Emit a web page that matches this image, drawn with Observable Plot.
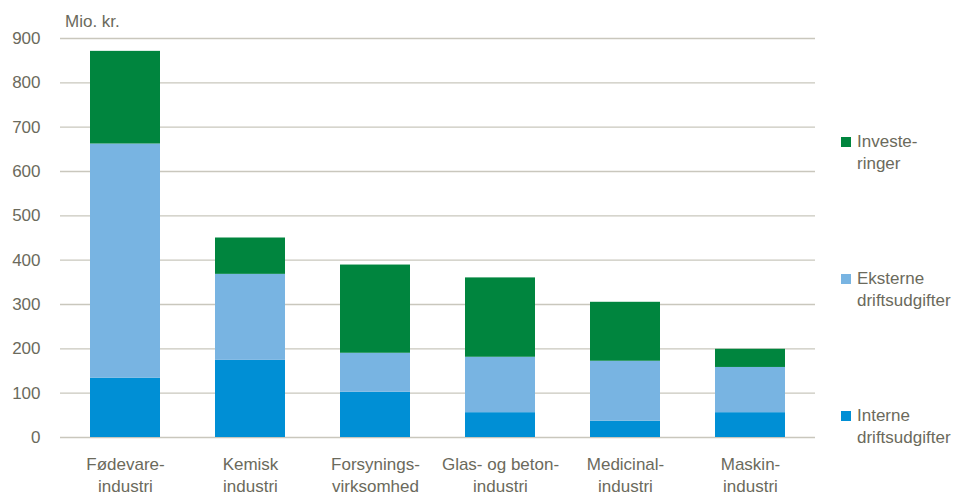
<!DOCTYPE html>
<html>
<head>
<meta charset="utf-8">
<script src="https://cdn.jsdelivr.net/npm/d3@7"></script>
<script src="https://cdn.jsdelivr.net/npm/@observablehq/plot@0.6"></script>
<style>
  body { margin: 0; background: #fff; }
  #wrap { position: relative; width: 955px; height: 495px; font-family: "Liberation Sans Narrow", "Liberation Sans", Arial, sans-serif; color: #6b6a5c; }
  .leg { position: absolute; left: 841px; font-size: 17px; line-height: 22px; }
  .leg span.sw { position: absolute; left: 0; top: 6px; width: 10px; height: 10px; }
  .leg span.tx { display: block; margin-left: 16px; }
  #unit { position: absolute; left: 65px; top: 12px; font-size: 17px; }
</style>
</head>
<body>
<div id="wrap"></div>
<script>
const categories = ["Fødevare-\nindustri", "Kemisk\nindustri", "Forsynings-\nvirksomhed", "Glas- og beton-\nindustri", "Medicinal-\nindustri", "Maskin-\nindustri"];
const series = ["Interne driftsudgifter", "Eksterne driftsudgifter", "Investeringer"];
const legendLabels = ["Interne\ndriftsudgifter", "Eksterne\ndriftsudgifter", "Investe-\nringer"];
const colors = ["#008fd5", "#78b4e2", "#00853e"];
const interne = [134, 174, 102, 56, 37, 56];
const eksterne = [528, 194, 88, 125, 135, 102];
const investeringer = [209, 82, 199, 179, 133, 41];
const yTicks = [0, 100, 200, 300, 400, 500, 600, 700, 800, 900];

const values = [interne, eksterne, investeringer];
const data = [];
series.forEach((s, i) => categories.forEach((c, j) => data.push({cat: c, series: s, value: values[i][j]})));

const chart = Plot.plot({
  width: 955,
  height: 495,
  marginLeft: 60,
  marginRight: 140,
  marginTop: 38,
  marginBottom: 58,
  style: {fontFamily: '"Liberation Sans Narrow", "Liberation Sans", Arial, sans-serif', fontSize: "17px", color: "#6b6a5c", background: "#fff"},
  x: {domain: categories, paddingInner: 0.444, paddingOuter: 0.222, label: null},
  y: {domain: [0, 900], label: null},
  color: {domain: series, range: colors},
  marks: [
    Plot.ruleY(yTicks, {stroke: "#c9c7bd", strokeWidth: 1.3}),
    Plot.barY(data, {x: "cat", y: "value", fill: "series", order: series}),
    Plot.axisY({ticks: yTicks, tickSize: 0, tickPadding: 20, fontSize: 17, fill: "#6b6a5c"}),
    Plot.axisX({tickSize: 0, tickPadding: 17, fontSize: 17, lineHeight: 1.3, fill: "#6b6a5c"})
  ]
});
const wrap = document.getElementById("wrap");
wrap.appendChild(chart);

const unit = document.createElement("div");
unit.id = "unit";
unit.textContent = "Mio. kr.";
wrap.appendChild(unit);

const legTops = [405, 268, 131];
series.forEach((s, i) => {
  const d = document.createElement("div");
  d.className = "leg";
  d.style.top = legTops[i] + "px";
  const sw = document.createElement("span");
  sw.className = "sw";
  sw.style.background = colors[i];
  const tx = document.createElement("span");
  tx.className = "tx";
  tx.innerHTML = legendLabels[i].replace("\n", "<br>");
  d.appendChild(sw); d.appendChild(tx);
  wrap.appendChild(d);
});
</script>
</body>
</html>
